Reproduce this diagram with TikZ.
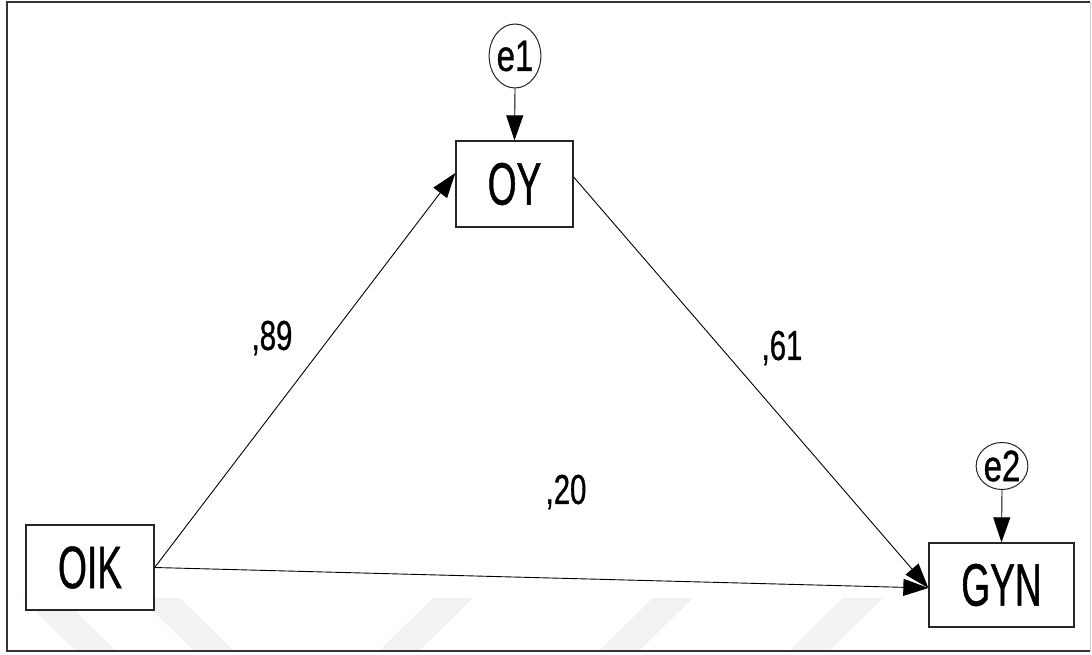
\documentclass[tikz,border=0pt]{standalone}
\usepackage{fontspec}
\newfontfamily\amos[FakeStretch=0.62,FakeBold=0.8]{Liberation Sans}
\newfontfamily\amosl[FakeStretch=0.7,FakeBold=0.8]{Liberation Sans}
\newfontfamily\amose[FakeStretch=0.75,FakeBold=0.8]{Liberation Sans}
\usetikzlibrary{arrows.meta,shapes.geometric}
\begin{document}
\begin{tikzpicture}[x=1bp,y=-1bp,
  obs/.style={draw=black!85,line width=1.3bp,inner sep=0pt,font=\amos\fontsize{60}{60}\selectfont},
  err/.style={draw=black!85,line width=1bp,ellipse,inner sep=0pt,font=\amose\fontsize{44}{44}\selectfont},
  lab/.style={font=\amosl\fontsize{42}{42}\selectfont,inner sep=0pt},
  path/.style={line width=0.9bp,-{Triangle[length=25bp,width=17bp]}},
  wm/.style={fill=black!5}
]
\useasboundingbox (0,0) rectangle (1092,655);
\fill[white] (0,0) rectangle (1092,655);
% faint watermark bands
\fill[wm] (22,598) -- (62,598) -- (115,650) -- (75,650) -- cycle;
\fill[wm] (140,598) -- (180,598) -- (233,650) -- (193,650) -- cycle;
\fill[wm] (380,650) -- (420,650) -- (473,598) -- (433,598) -- cycle;
\fill[wm] (600,650) -- (640,650) -- (693,598) -- (653,598) -- cycle;
\fill[wm] (790,650) -- (830,650) -- (883,598) -- (843,598) -- cycle;
% frame
\draw[black!20,line width=1bp] (1090,2) -- (1090,651);
\draw[black!80,line width=2bp] (1090,2) -- (7,2) -- (7,651) -- (1090,651);
% nodes
\node[obs, fill=white, minimum width=128bp, minimum height=85bp] (OIK) at (90,567.5) {OIK};
\node[obs, minimum width=117bp, minimum height=86bp] (OY) at (514.5,184) {OY};
\node[obs, fill=white, minimum width=145bp, minimum height=84bp] (GYN) at (1001.5,585) {GYN};
\node[err, minimum width=50bp, minimum height=64bp] (e1) at (515,56) {e1};
\node[err, minimum width=50bp, minimum height=47bp] (e2) at (1002,466) {e2};
% connectors
\draw[path] (e1.south) -- (OY.north);
\draw[path] (e2.south) -- (GYN.north);
\draw[path] (OIK.east) -- ([yshift=11bp]OY.west);
\draw[path] ([yshift=7bp]OY.east) -- ([yshift=-3bp]GYN.west);
\draw[path] (OIK.east) -- ([yshift=-3bp]GYN.west);
% labels
\node[lab] (l89) at (272,338) {,89};
\node[lab] (l61) at (782,348) {,61};
\node[lab] (l20) at (566,492) {,20};
\end{tikzpicture}
\end{document}
